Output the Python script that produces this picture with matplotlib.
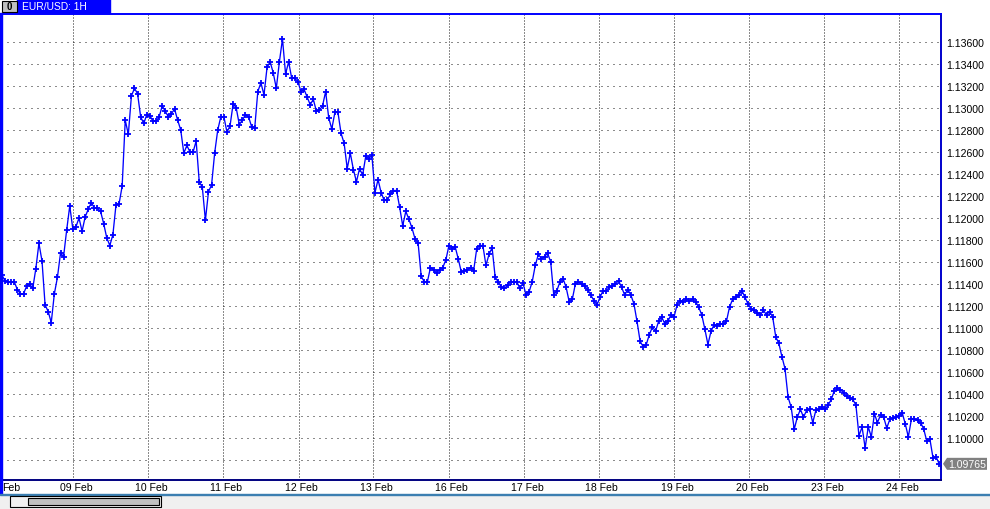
import numpy as np
import matplotlib.pyplot as plt
from matplotlib.patches import Rectangle, Polygon
import matplotlib.transforms as mtransforms

# EUR/USD 1H close (06 Feb .. 24 Feb)
feb06_09 = [1.1148, 1.1143, 1.1142, 1.1142, 1.1142, 1.1135, 1.1131, 1.1131, 1.1138, 1.1140,
            1.1136, 1.1154, 1.1177, 1.1161, 1.1121, 1.1115, 1.1105, 1.1131, 1.1146, 1.1168,
            1.1165, 1.1189, 1.1211, 1.1190, 1.1192, 1.1200, 1.1188, 1.1201, 1.1208, 1.1214,
            1.1209, 1.1209, 1.1206, 1.1195, 1.1182, 1.1175, 1.1185, 1.1212, 1.1213, 1.1229]
feb09_10 = [1.1289, 1.1276, 1.1311, 1.1318, 1.1313, 1.1292, 1.1286, 1.1294, 1.1293, 1.1288,
            1.1288, 1.1292, 1.1302, 1.1297, 1.1292, 1.1295, 1.1299, 1.1289, 1.1280, 1.1259,
            1.1266, 1.1260, 1.1260, 1.1270, 1.1233, 1.1228, 1.1198, 1.1224, 1.1230, 1.1259,
            1.1280, 1.1292, 1.1292, 1.1278, 1.1284]
feb11_12 = [1.1304, 1.1300, 1.1285, 1.1289, 1.1294, 1.1292, 1.1283, 1.1282, 1.1315, 1.1323,
            1.1312, 1.1337, 1.1342, 1.1332, 1.1318, 1.1342, 1.1363, 1.1331, 1.1342, 1.1327,
            1.1327, 1.1324, 1.1315, 1.1317, 1.1310, 1.1303, 1.1308, 1.1297, 1.1298, 1.1302,
            1.1315, 1.1291, 1.1281, 1.1296, 1.1296]
feb12_16 = [1.1277, 1.1268, 1.1245, 1.1259, 1.1244, 1.1233, 1.1245, 1.1239, 1.1256, 1.1254,
            1.1257, 1.1223, 1.1235, 1.1223, 1.1216, 1.1216, 1.1222, 1.1225, 1.1225, 1.1210,
            1.1193, 1.1206, 1.1199, 1.1191, 1.1181, 1.1177, 1.1147, 1.1142, 1.1142, 1.1155,
            1.1153, 1.1150, 1.1153, 1.1155, 1.1162]
feb16_17 = [1.1175, 1.1172, 1.1174, 1.1163, 1.1151, 1.1152, 1.1153, 1.1155, 1.1152, 1.1172,
            1.1175, 1.1175, 1.1157, 1.1167, 1.1173, 1.1146, 1.1142, 1.1137, 1.1136, 1.1139,
            1.1142, 1.1142, 1.1142, 1.1136, 1.1141, 1.1130, 1.1133, 1.1142, 1.1157, 1.1167,
            1.1163, 1.1165, 1.1168, 1.1160, 1.1130]
feb18_23 = [1.1134, 1.1142, 1.1145, 1.1137, 1.1124, 1.1126, 1.1140, 1.1142, 1.1140, 1.1138,
            1.1135, 1.1130, 1.1125, 1.1121, 1.1128, 1.1134, 1.1134, 1.1137, 1.1138, 1.1140,
            1.1143, 1.1137, 1.1130, 1.1135, 1.1130, 1.1122, 1.1106, 1.1088, 1.1083, 1.1085,
            1.1094, 1.1101, 1.1097, 1.1106, 1.1110, 1.1104, 1.1106, 1.1112, 1.1110, 1.1121,
            1.1125, 1.1124, 1.1126, 1.1125, 1.1126, 1.1124, 1.1119, 1.1112, 1.1099, 1.1085,
            1.1097, 1.1103, 1.1102, 1.1104, 1.1104, 1.1106, 1.1119, 1.1126, 1.1128, 1.1130,
            1.1134, 1.1128, 1.1122, 1.1117, 1.1116, 1.1114, 1.1112, 1.1116, 1.1112, 1.1115,
            1.1110, 1.1092, 1.1086, 1.1074, 1.1063, 1.1037, 1.1028, 1.1008, 1.1019, 1.1026,
            1.1019, 1.1025, 1.1026, 1.1014, 1.1025, 1.1026, 1.1028, 1.1026, 1.1030, 1.1035,
            1.1043, 1.1045, 1.1044, 1.1041, 1.1038, 1.1036, 1.1035]
feb23_24 = [1.1030, 1.1002, 1.1010, 1.0991, 1.1010, 1.1001, 1.1022, 1.1014, 1.1021, 1.1019,
            1.1009, 1.1017, 1.1018, 1.1019, 1.1020, 1.1023, 1.1013, 1.1001, 1.1017, 1.1017,
            1.1016, 1.1014, 1.1008, 1.0997, 1.0999, 1.0982, 1.0983, 1.09765]

prices = feb06_09 + feb09_10 + feb11_12 + feb12_16 + feb16_17 + feb18_23 + feb23_24

day_names = ['09 Feb', '10 Feb', '11 Feb', '12 Feb', '13 Feb', '16 Feb',
             '17 Feb', '18 Feb', '19 Feb', '20 Feb', '23 Feb', '24 Feb']
# bar index where each day begins
day_index = [23.0, 47.4, 71.8, 96.2, 120.5, 144.9, 169.3, 193.6, 218.0, 242.4, 266.8, 291.1]
price_levels = np.arange(1.098, 1.1361, 0.002)

W, H = 990, 510
def fx(x):
    return x / W
def fy(y):
    return 1 - y / H

plt.rcParams['font.family'] = ['Liberation Sans', 'DejaVu Sans']
fig = plt.figure(figsize=(W / 100, H / 100), dpi=100)
fig.patch.set_facecolor('white')

ax = fig.add_axes([fx(1), fy(481), fx(941) - fx(1), fy(15) - fy(481)])
x = np.arange(len(prices))
ax.plot(x, prices, color='#0000ff', lw=0.95, marker='+', ms=4.5, mew=1.3, zorder=3)
ax.set_xlim(-0.3, len(prices) - 0.4)
ax.set_ylim(1.09618, 1.13855)

# dotted grid
for v in price_levels:
    ax.axhline(v, color='#1a1a1a', lw=0.72, ls=(0, (1, 5)), zorder=1)
for d in day_index:
    ax.axvline(d, color='#1a1a1a', lw=0.72, ls=(0, (1, 2)), zorder=1)

# the 1.09800 label sits under the last-price tag, so it is left out
ax.set_yticks(price_levels)
ax.set_yticklabels(['' if i == 0 else f'{v:.5f}' for i, v in enumerate(price_levels)])
ax.yaxis.tick_right()
ax.tick_params(axis='y', length=0, pad=4, labelsize=7.6, labelcolor='black')
ax.set_xticks([])

for side, col in [('left', '#0000ff'), ('top', '#0000ff'), ('right', '#0000cc'), ('bottom', '#000080')]:
    ax.spines[side].set_color(col)
    ax.spines[side].set_linewidth(1.4)

# day labels under the plot
trans = mtransforms.blended_transform_factory(ax.transData, ax.transAxes)
for name, d in zip(day_names, day_index):
    ax.text(d + 1.0, -0.016, name, transform=trans, ha='center', va='center',
            fontsize=7.6, clip_on=False)
# previous day's label, only its tail is visible at the left edge
fig.text(fx(2), fy(488), 'Feb', ha='left', va='center', fontsize=7.6)

# title tab
fig.patches.append(Rectangle((fx(17), fy(14)), fx(110) - fx(17), fy(0) - fy(14),
                             transform=fig.transFigure, color='#0000ff', zorder=5))
fig.patches.append(Rectangle((fx(2), fy(13)), fx(15), fy(2) - fy(13),
                             transform=fig.transFigure, facecolor='#c0c0c0',
                             edgecolor='black', lw=0.8, zorder=6))
fig.text(fx(9.5), fy(7.5), '0', color='black', fontsize=7, fontweight='bold',
         ha='center', va='center', zorder=7)
fig.text(fx(22), fy(7.5), 'EUR/USD: 1H', color='white', fontsize=7.4,
         ha='left', va='center', zorder=7)

# left window border
fig.patches.append(Rectangle((fx(0), fy(495)), fx(1.5), fy(14) - fy(495),
                             transform=fig.transFigure, color='#0000ff', zorder=5))

# bottom scroll area
fig.patches.append(Rectangle((fx(0), fy(510)), 1, fy(495.5) - fy(510),
                             transform=fig.transFigure, facecolor='#f0f0f0',
                             edgecolor='none', zorder=4))
fig.patches.append(Rectangle((fx(0), fy(496)), 1, fy(495) - fy(496),
                             transform=fig.transFigure, color='#3c7fb1', zorder=5))
fig.patches.append(Rectangle((fx(10), fy(508)), fx(151), fy(497) - fy(508),
                             transform=fig.transFigure, facecolor='#f0f0f0',
                             edgecolor='black', lw=0.8, zorder=5))
fig.patches.append(Rectangle((fx(28), fy(506)), fx(131), fy(499) - fy(506),
                             transform=fig.transFigure, facecolor='#c0c0c0',
                             edgecolor='black', lw=0.8, zorder=6))

# last price tag
y_last = ax.transData.transform((0, prices[-1]))[1] / H
h = 6 / H
tag = Polygon([(fx(943), y_last), (fx(947), y_last + h), (fx(987), y_last + h),
               (fx(987), y_last - h), (fx(947), y_last - h)],
              closed=True, transform=fig.transFigure, facecolor='#808080',
              edgecolor='none', zorder=8)
fig.patches.append(tag)
fig.text(fx(967), y_last, f'{prices[-1]:.5f}', color='white', fontsize=7.6,
         ha='center', va='center', zorder=9)

fig.savefig('out.png', dpi=100)
